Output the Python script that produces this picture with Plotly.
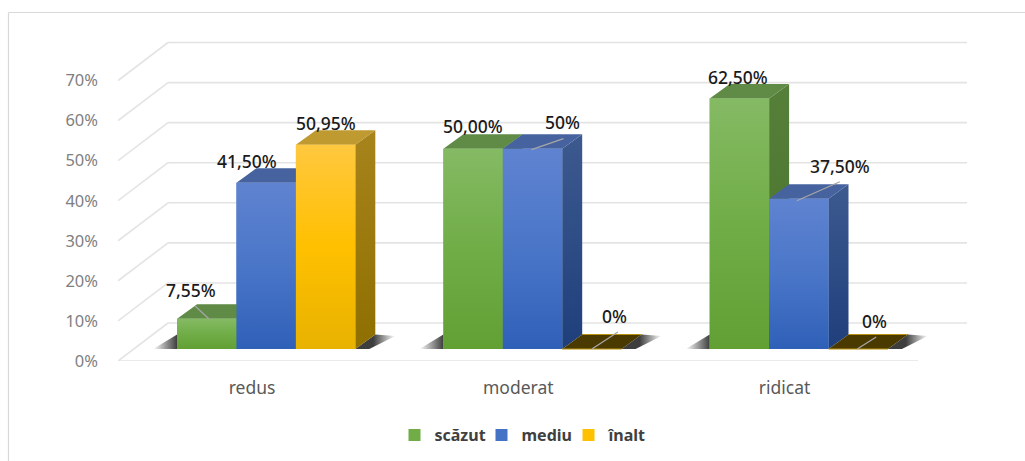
import plotly.graph_objects as go

# ---------- data ----------
categories = ["redus", "moderat", "ridicat"]
series_names = ["scăzut", "mediu", "înalt"]
scazut = [7.55, 50.0, 62.5]
mediu = [41.5, 50.0, 37.5]
inalt = [50.95, 0.0, 0.0]
scazut_labels = ["7,55%", "50,00%", "62,50%"]
mediu_labels = ["41,50%", "50%", "37,50%"]
inalt_labels = ["50,95%", "0%", "0%"]
y_ticks = [0, 10, 20, 30, 40, 50, 60, 70]
y_tick_labels = ["0%", "10%", "20%", "30%", "40%", "50%", "60%", "70%"]

# ---------- geometry (pixels per unit of the two axes) ----------
W, H = 1025, 461
PLOT_L, PLOT_B = 118, 361
PX_X = 266.3
PX_Y = 4.007
X0_PX = 252.0
ux = lambda px: px / PX_X
uy = lambda px: px / PX_Y
xr = [(PLOT_L - X0_PX) / PX_X, (W - X0_PX) / PX_X]
yr = [0, PLOT_B / PX_Y]

REAR_DX, REAR_DY = ux(50), uy(38)
LIFT = uy(12)
BAR_W = ux(59.4)
CENTER_SHIFT = ux(14.2)
DEPTH_X, DEPTH_Y = ux(20), uy(14.5)

values = [scazut, mediu, inalt]
labels = [scazut_labels, mediu_labels, inalt_labels]

base_col = ["#70ad47", "#4472c4", "#ffc000"]
front = [
    ["#85ba64", "#70ad47", "#62a034"],
    ["#5f83d0", "#4a76c8", "#2f60b8"],
    ["#ffc83f", "#ffc000", "#e8b200"],
]
top = ["#5f8b47", "#46639f", "#bf9a30"]
side = [["#56803a", "#48722a"], ["#3d5a8f", "#1f3f7c"], ["#a8841c", "#8e6f00"]]

fig = go.Figure()


def poly(xs, ys, **kw):
    fig.add_trace(go.Scatter(x=xs, y=ys, fill="toself", mode="none", showlegend=False,
                             hoverinfo="skip", cliponaxis=False, **kw))


def vgrad(cols):
    n = len(cols) - 1
    return dict(type="vertical", colorscale=[[i / n, c] for i, c in enumerate(reversed(cols))])


# real bars (front faces)
for k, (name, vals) in enumerate(zip(series_names, values)):
    fig.add_trace(go.Bar(
        x=[i + CENTER_SHIFT for i in range(len(categories))], y=vals, base=LIFT, name=name,
        marker=dict(color=base_col[k], line_width=0), hoverinfo="skip", cliponaxis=False,
    ))

# soft floor shadows
for i in range(len(categories)):
    left = i + CENTER_SHIFT - 1.5 * BAR_W
    poly([left - ux(24), left, left], [LIFT, LIFT, LIFT + DEPTH_Y],
         fillgradient=dict(type="horizontal", colorscale=[[0, "rgba(40,40,40,0)"], [1, "rgba(40,40,40,0.9)"]]))
    right = i + CENTER_SHIFT + 1.5 * BAR_W
    poly([right, right + DEPTH_X, right + DEPTH_X + ux(20), right + ux(14)],
         [LIFT, LIFT + DEPTH_Y, LIFT + DEPTH_Y - uy(1.5), LIFT],
         fillgradient=dict(type="horizontal", colorscale=[[0, "rgba(40,40,40,0.9)"], [0.45, "rgba(40,40,40,0.9)"], [1, "rgba(40,40,40,0)"]]))

# painted boxes, back to front within each group
for i in range(len(categories)):
    for k in range(3):
        v = values[k][i]
        x0 = i + CENTER_SHIFT + (k - 1.5) * BAR_W
        x1 = x0 + BAR_W
        y0, y1 = LIFT, LIFT + v
        if v > 0:
            poly([x1, x1 + DEPTH_X, x1 + DEPTH_X, x1], [y0, y0 + DEPTH_Y, y1 + DEPTH_Y, y1],
                 fillgradient=vgrad(side[k]))
            poly([x0, x0 + DEPTH_X, x1 + DEPTH_X, x1], [y1, y1 + DEPTH_Y, y1 + DEPTH_Y, y1],
                 fillcolor=top[k])
            poly([x0, x1, x1, x0], [y0, y0, y1, y1], fillgradient=vgrad(front[k]))
        else:
            poly([x0, x0 + DEPTH_X, x1 + DEPTH_X, x1], [y1, y1 + DEPTH_Y, y1 + DEPTH_Y, y1], fillcolor="#4a3a00")
            fig.add_trace(go.Scatter(
                x=[x0, x1, None, x0 + DEPTH_X, x1 + DEPTH_X], y=[y1, y1, None, y1 + DEPTH_Y, y1 + DEPTH_Y],
                mode="lines", line=dict(color="#b8900f", width=1.2),
                showlegend=False, hoverinfo="skip", cliponaxis=False))

# data labels: pixel offsets from the front-top centre of each bar
label_offsets = [
    [(-16, 29), (-19, 22), (0, 22)],
    [(0, 23), (30, 27), (23, 33)],
    [(-1, 22), (41, 33), (16, 28)],
]
# leader lines: pixel offsets (start, end) from the same anchor
leaders = {
    (0, 0): ((-12, 13), (2, 0)),
    (1, 1): ((-1, -1), (31, 10)),
    (2, 1): ((-2, -2), (41, 17)),
    (1, 2): ((0, 0), (26, 17)),
    (2, 2): ((-1, 0), (18, 12)),
}
for i in range(len(categories)):
    for k in range(3):
        xc = i + CENTER_SHIFT + (k - 1) * BAR_W
        yt = LIFT + values[k][i]
        dx, dy = label_offsets[i][k]
        fig.add_annotation(x=xc, y=yt, xshift=dx, yshift=dy, text=labels[k][i], showarrow=False,
                           font=dict(family="Noto Sans", size=17.5, color="#1a1a1a", weight=500))
        if (i, k) in leaders:
            (a, b), (c, d) = leaders[(i, k)]
            fig.add_trace(go.Scatter(x=[xc + ux(a), xc + ux(c)], y=[yt + uy(b), yt + uy(d)], mode="lines",
                                     line=dict(color="#a6a6a6", width=1.3), showlegend=False,
                                     hoverinfo="skip", cliponaxis=False))

# perspective grid
shapes = []
grid_line = dict(color="#e3e3e3", width=1.6)
xl = xr[0]
x_rear_end = (967 - X0_PX) / PX_X
x_front_end = (918 - X0_PX) / PX_X
for t in y_ticks:
    shapes.append(dict(type="line", xref="x", yref="y", x0=xl, y0=t, x1=xl + REAR_DX, y1=t + REAR_DY, line=grid_line, layer="below"))
    shapes.append(dict(type="line", xref="x", yref="y", x0=xl + REAR_DX, y0=t + REAR_DY, x1=x_rear_end, y1=t + REAR_DY, line=grid_line, layer="below"))
shapes.append(dict(type="line", xref="x", yref="y", x0=xl, y0=0, x1=x_front_end, y1=0, line=grid_line, layer="below"))

# chart frame
pw, ph = W - PLOT_L, PLOT_B
fx = lambda px: (px - PLOT_L) / pw
fy = lambda py: (PLOT_B - py) / ph
frame = dict(color="#d9d9d9", width=1.2)
shapes.append(dict(type="line", xref="paper", yref="paper", x0=fx(8.5), y0=fy(12.5), x1=fx(W), y1=fy(12.5), line=frame, layer="below"))
shapes.append(dict(type="line", xref="paper", yref="paper", x0=fx(8.5), y0=fy(12.5), x1=fx(8.5), y1=fy(H), line=frame, layer="below"))

fig.update_layout(
    width=W, height=H, autosize=False,
    margin=dict(l=PLOT_L, r=0, t=0, b=H - PLOT_B, pad=0),
    paper_bgcolor="white", plot_bgcolor="rgba(0,0,0,0)",
    barmode="group", bargap=1 - 3 * 59.4 / PX_X, bargroupgap=0,
    shapes=shapes,
    xaxis=dict(range=xr, tickmode="array", tickvals=list(range(len(categories))), ticktext=categories,
               showgrid=False, zeroline=False, showline=False, ticks="", ticklabelstandoff=14,
               tickfont=dict(family="Noto Sans", size=17.5, color="#595959")),
    yaxis=dict(range=yr, tickmode="array", tickvals=y_ticks, ticktext=y_tick_labels,
               showgrid=False, zeroline=False, showline=False, ticks="", ticklabelstandoff=19,
               tickfont=dict(family="Noto Sans", size=16.5, color="#7f7f7f")),
    legend=dict(orientation="h", xref="paper", yref="paper", x=fx(525), xanchor="center",
                y=fy(435), yanchor="middle", entrywidth=42, entrywidthmode="pixels",
                font=dict(family="Noto Sans", size=16, color="#404040", weight="bold"),
                itemclick=False, itemdoubleclick=False, bgcolor="rgba(0,0,0,0)"),
    showlegend=True,
    hovermode=False,
)

fig.write_html("out.html", config={"displayModeBar": False}, post_script="document.body.style.margin='0';")
